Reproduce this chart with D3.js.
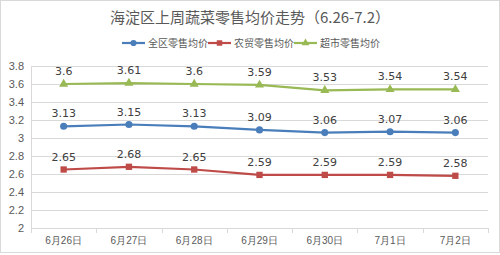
<!DOCTYPE html>
<html>
<head>
<meta charset="utf-8">
<script src="https://cdn.jsdelivr.net/npm/d3@7"></script>
<style>
  body { margin: 0; background: #fff; }
  svg { display: block; font-family: "DejaVu Sans", "Noto Sans CJK SC", sans-serif; }
</style>
</head>
<body>
<div id="chart"></div>
<script>
var categories = ['6月26日', '6月27日', '6月28日', '6月29日', '6月30日', '7月1日', '7月2日'];
var seriesNames = ['全区零售均价', '农贸零售均价', '超市零售均价'];
var allPrice = [3.13, 3.15, 3.13, 3.09, 3.06, 3.07, 3.06];
var marketPrice = [2.65, 2.68, 2.65, 2.59, 2.59, 2.59, 2.58];
var superPrice = [3.6, 3.61, 3.6, 3.59, 3.53, 3.54, 3.54];
var yTicks = [2, 2.2, 2.4, 2.6, 2.8, 3, 3.2, 3.4, 3.6, 3.8];

var colors = ['#4a7ebb', '#be4b48', '#98b954'];
var shapes = [d3.symbolCircle, d3.symbolSquare, d3.symbolTriangle];
var series = [allPrice, marketPrice, superPrice];

var width = 500, height = 255;
var margin = {top: 66, right: 12, bottom: 27, left: 31};

var svg = d3.select('#chart').append('svg')
    .attr('width', width)
    .attr('height', height);

svg.append('rect')
    .attr('x', 0.5).attr('y', 0.5)
    .attr('width', width - 1).attr('height', height - 3)
    .attr('fill', '#fff')
    .attr('stroke', '#d9d9d9');

svg.append('text')
    .attr('x', 250).attr('y', 23)
    .attr('text-anchor', 'middle')
    .style('font-family', '"Noto Sans CJK SC", sans-serif')
    .style('font-size', '15px')
    .attr('fill', '#595959')
    .text('海淀区上周蔬菜零售均价走势（6.26-7.2）');

// legend
var legendX = [122, 208, 294];
var legend = svg.append('g');
seriesNames.forEach(function (name, i) {
    var lg = legend.append('g').attr('transform', 'translate(' + legendX[i] + ',43)');
    lg.append('line')
        .attr('x1', 0).attr('x2', 23)
        .attr('stroke', colors[i]).attr('stroke-width', 2.2);
    lg.append('path')
        .attr('transform', 'translate(11.5,0)')
        .attr('d', d3.symbol().type(shapes[i]).size(i === 2 ? 26 : 30)())
        .attr('fill', colors[i]);
    lg.append('text')
        .attr('x', 26).attr('y', 3.5)
        .style('font-family', '"Noto Sans CJK SC", sans-serif')
        .style('font-size', '10px')
        .attr('fill', '#595959')
        .text(name);
});

var innerW = width - margin.left - margin.right;
var innerH = height - margin.top - margin.bottom;

var x = d3.scaleBand().domain(categories).range([0, innerW]);
var y = d3.scaleLinear().domain([2, 3.8]).range([innerH, 0]);

var g = svg.append('g').attr('transform', 'translate(' + margin.left + ',' + margin.top + ')');

// gridlines
g.selectAll('.grid')
    .data(yTicks.slice(1))
    .enter().append('line')
    .attr('class', 'grid')
    .attr('x1', 0).attr('x2', innerW)
    .attr('y1', function (d) { return Math.round(y(d)) + 0.5; })
    .attr('y2', function (d) { return Math.round(y(d)) + 0.5; })
    .attr('stroke', '#d9d9d9')
    .attr('stroke-width', 1);

// y axis
var yAxis = g.append('g')
    .call(d3.axisLeft(y).tickValues(yTicks).tickSize(0).tickPadding(7).tickFormat(function (d) { return d3.format('')(+d.toFixed(1)); }));
yAxis.select('.domain').attr('stroke', '#d9d9d9');
yAxis.selectAll('text')
    .style('font-size', '11px')
    .attr('fill', '#595959');

// x axis
var xAxis = g.append('g')
    .attr('transform', 'translate(0,' + innerH + ')')
    .call(d3.axisBottom(x).tickSize(0).tickPadding(9));
xAxis.select('.domain').attr('stroke', '#d9d9d9');
xAxis.selectAll('text')
    .style('font-size', '10px')
    .attr('fill', '#595959');
var bounds = [0].concat(categories.map(function (c) { return x(c) + x.bandwidth(); }));
xAxis.selectAll('.sep')
    .data(bounds)
    .enter().append('line')
    .attr('class', 'sep')
    .attr('x1', function (d) { return Math.round(d) + 0.5; })
    .attr('x2', function (d) { return Math.round(d) + 0.5; })
    .attr('y1', 0).attr('y2', 5)
    .attr('stroke', '#d9d9d9');

var cx = function (i) { return x(categories[i]) + x.bandwidth() / 2; };

series.forEach(function (values, s) {
    var line = d3.line()
        .x(function (d, i) { return cx(i); })
        .y(function (d) { return y(d); });
    g.append('path')
        .datum(values)
        .attr('d', line)
        .attr('fill', 'none')
        .attr('stroke', colors[s])
        .attr('stroke-width', 2.2);

    g.selectAll('.pt' + s)
        .data(values)
        .enter().append('path')
        .attr('class', 'pt' + s)
        .attr('transform', function (d, i) { return 'translate(' + cx(i) + ',' + y(d) + ')'; })
        .attr('d', d3.symbol().type(shapes[s]).size(s === 2 ? 36 : 40)())
        .attr('fill', colors[s]);

    g.selectAll('.lbl' + s)
        .data(values)
        .enter().append('text')
        .attr('class', 'lbl' + s)
        .attr('x', function (d, i) { return cx(i); })
        .attr('y', function (d) { return y(d) - 9; })
        .attr('text-anchor', 'middle')
        .style('font-size', '11px')
        .attr('fill', '#404040')
        .text(function (d) { return d; });
});
</script>
</body>
</html>
